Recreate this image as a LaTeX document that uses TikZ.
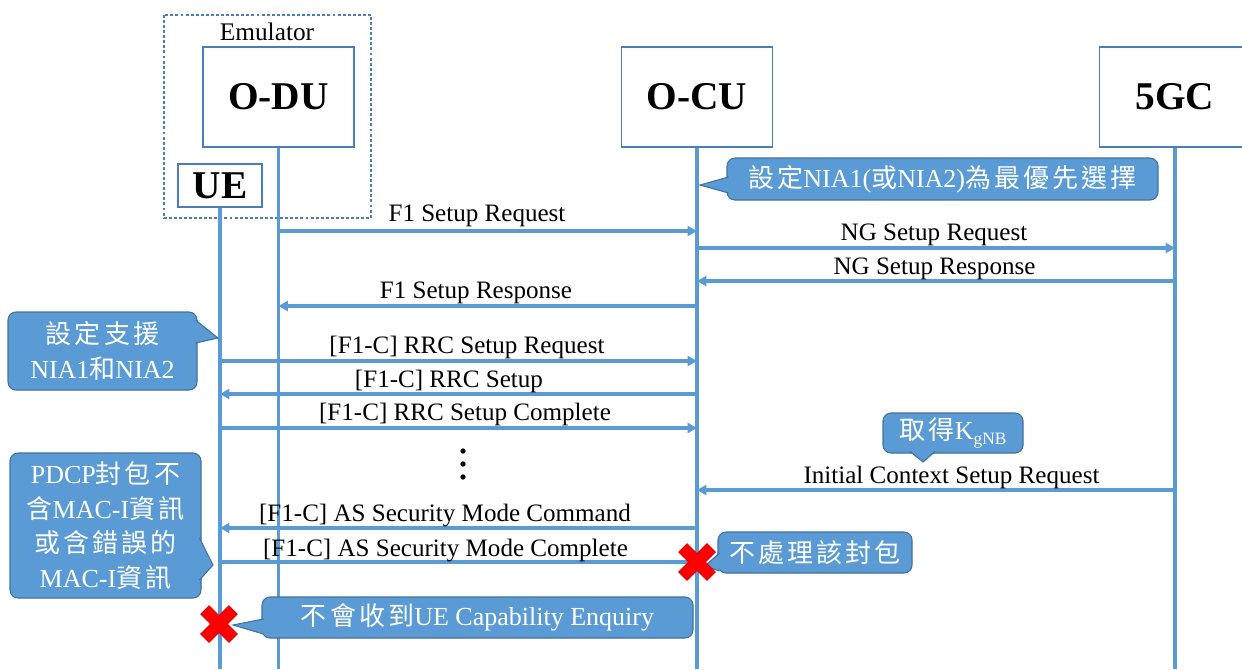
\documentclass[tikz,border=0pt]{standalone}
\usepackage{fontspec}
\setmainfont{Liberation Serif}
\newfontfamily\cjk[LetterSpace=12]{Noto Sans CJK TC}
\usetikzlibrary{arrows.meta,calc}

\definecolor{life}{HTML}{5B9BD5}
\definecolor{boxline}{HTML}{4A7EBB}
\definecolor{cfill}{HTML}{5B9BD5}
\definecolor{cline}{HTML}{41719C}
\definecolor{xred}{HTML}{FF0000}
\definecolor{xedge}{HTML}{D00000}

\newcommand\zh[1]{{\cjk #1}}
\newcommand\lat[1]{{\rmfamily #1}}
% pointer of a callout: base point, tip, base point
\newcommand\cpointer[3]{%
  \fill[cfill] #1 -- #2 -- #3 -- cycle;
  \draw[cline, line width=0.8pt, line join=miter] #1 -- #2 -- #3;}

\begin{document}
\begin{tikzpicture}[x=0.75pt,y=-0.75pt,
  entity/.style={draw=boxline, line width=1pt, fill=white, inner sep=0pt,
    font=\fontsize{29.5}{32}\selectfont\bfseries},
  lifeline/.style={draw=life, line width=2.5pt},
  msg/.style={draw=life, line width=2.3pt, -{Triangle[length=7pt,width=7.5pt]}},
  msglabel/.style={anchor=base, inner sep=0pt, font=\fontsize{18.8}{22}\selectfont},
  callout/.style={fill=cfill, draw=cline, line width=0.8pt, rounded corners=6pt,
    text=white, inner sep=0pt, align=center, font=\fontsize{19.5}{26}\selectfont},
  redx/.pic={\filldraw[fill=xred, draw=xedge, line width=0.5pt, rotate=45]
    (-6,20) -- (6,20) -- (6,6) -- (20,6) -- (20,-6) -- (6,-6) -- (6,-20)
    -- (-6,-20) -- (-6,-6) -- (-20,-6) -- (-20,6) -- (-6,6) -- cycle;}]

\useasboundingbox (0,0) rectangle (1242,669);

% emulator frame
\draw[draw=boxline, line width=0.8pt, dash pattern=on 2.2pt off 1.6pt]
  (164,15) rectangle (371,218);
\node[inner sep=0pt, font=\fontsize{19}{22}\selectfont] (emu) at (267,32) {Emulator};

% entities
\node[entity, minimum width=113.25pt, minimum height=75pt] (odu) at (278.5,97) {O-DU};
\node[entity, minimum width=113.25pt, minimum height=75pt] (ocu) at (697,97) {O-CU};
\node[entity, minimum width=113.25pt, minimum height=75pt] (core) at (1175,97) {5GC};
\node[entity, minimum width=63pt, minimum height=32.25pt] (ue) at (220,185.5) {UE};

% lifelines
\coordinate (bottom) at (0,669);
\draw[lifeline] (ue.south) -- (ue.south |- bottom);
\draw[lifeline] (odu.south) -- (odu.south |- bottom);
\draw[lifeline] (ocu.south) -- (ocu.south |- bottom);
\draw[lifeline] (core.south) -- (core.south |- bottom);

% messages
\draw[msg] (odu.south |- 0,231) -- (ocu.south |- 0,231);
\node[msglabel] (l1) at (477,221) {F1 Setup Request};
\draw[msg] (ocu.south |- 0,248) -- (core.south |- 0,248);
\node[msglabel] (l2) at (934,240) {NG Setup Request};
\draw[msg] (core.south |- 0,281) -- (ocu.south |- 0,281);
\node[msglabel] (l3) at (934.5,274) {NG Setup Response};
\draw[msg] (ocu.south |- 0,306) -- (odu.south |- 0,306);
\node[msglabel] (l4) at (476,298) {F1 Setup Response};
\draw[msg] (ue.south |- 0,361) -- (ocu.south |- 0,361);
\node[msglabel] (l5) at (467,353) {[F1-C] RRC Setup Request};
\draw[msg] (ocu.south |- 0,394) -- (ue.south |- 0,394);
\node[msglabel] (l6) at (449,387) {[F1-C] RRC Setup};
\draw[msg] (ue.south |- 0,428) -- (ocu.south |- 0,428);
\node[msglabel] (l7) at (465,420) {[F1-C] RRC Setup Complete};
\draw[msg] (core.south |- 0,490) -- (ocu.south |- 0,490);
\node[msglabel] (l8) at (951.5,483) {Initial Context Setup Request};
\draw[msg] (ocu.south |- 0,528) -- (ue.south |- 0,528);
\node[msglabel] (l9) at (445,521) {[F1-C] AS Security Mode Command};
\coordinate (lost) at (697,562);
\draw[draw=life, line width=2.3pt] (ue.south |- lost) -- (lost);
\node[msglabel] (l10) at (445.5,556) {[F1-C] AS Security Mode Complete};

% vertical ellipsis
\foreach \y in {451,464,477} \fill (463,\y) circle[radius=2pt];

% callouts
\node[callout, minimum width=323.25pt, minimum height=31.5pt] (c1) at (942.5,179)
  {\zh{設定}\lat{NIA1(}\zh{或}\lat{NIA2)}\zh{為最優先選擇}};
\cpointer{(728.5,177)}{(700,185)}{(728.5,193)}

\node[callout, minimum width=141.75pt, minimum height=58.5pt] (c2) at (102.5,351)
  {\zh{設定支援}\\\lat{NIA1}\zh{和}\lat{NIA2}};
\cpointer{(195.5,320)}{(218,338)}{(195.5,343)}

\node[callout, minimum width=105pt, minimum height=30pt] (c3) at (953,433)
  {\zh{取得}\lat{K{\fontsize{13}{13}\selectfont\raisebox{-4pt}{gNB}}}};
\cpointer{(910,451.5)}{(923,462)}{(935,451.5)}

\node[callout, minimum width=143.25pt, minimum height=108.75pt] (c4) at (105.5,525.5)
  {\lat{PDCP}\zh{封包不}\\\zh{含}\lat{MAC-I}\zh{資訊}\\\zh{或含錯誤的}\\\lat{MAC-I}\zh{資訊}};
\cpointer{(199.5,538)}{(213,565)}{(199.5,580)}

\node[callout, minimum width=145.5pt, minimum height=30.75pt] (c5) at (815,552.5)
  {\zh{不處理該封包}};
\cpointer{(719.5,553)}{(705,566)}{(719.5,571)}

\node[callout, minimum width=323.25pt, minimum height=30.75pt] (c6) at (477.5,617.5)
  {\zh{不會收到}\lat{UE Capability Enquiry}};
\cpointer{(263.5,619)}{(233,625)}{(263.5,634)}

% dropped messages
\pic at (lost) {redx};
\coordinate (uex) at (219,624);
\pic at (uex) {redx};
\end{tikzpicture}
\end{document}
